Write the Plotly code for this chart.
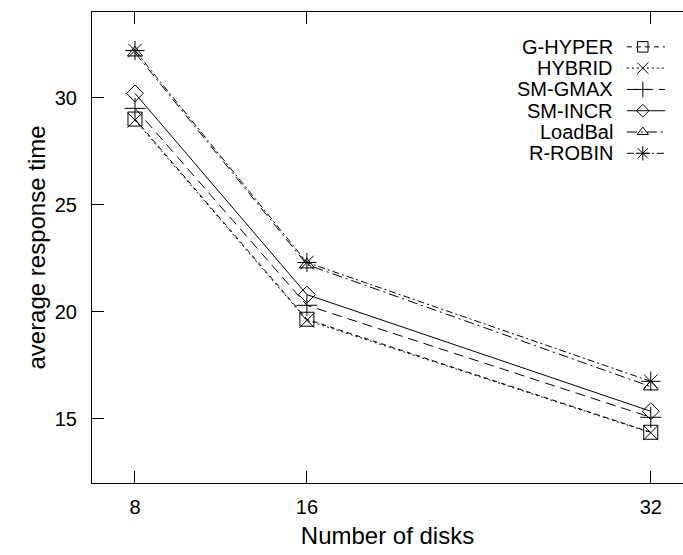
import plotly.graph_objects as go

disks = [8, 16, 32]
tick_vals_y = [15, 20, 25, 30]
series_names = ["G-HYPER", "HYBRID", "SM-GMAX", "SM-INCR", "LoadBal", "R-ROBIN"]
g_hyper = [29.0, 19.65, 14.37]
hybrid = [28.95, 19.6, 14.35]
sm_gmax = [29.5, 20.3, 15.07]
sm_incr = [30.2, 20.8, 15.35]
loadbal = [32.1, 22.2, 16.5]
r_robin = [32.2, 22.3, 16.75]

values = [g_hyper, hybrid, sm_gmax, sm_incr, loadbal, r_robin]
symbols = ["square-open", "x-thin-open", "cross-thin-open", "diamond-open",
           "triangle-up-open", "asterisk-open"]
sizes = [14, 15, 15, 13, 13, 16]
dashes = ["5px,4px", "2px,3px", "10px,6px", "solid", "10px,4px,2px,4px", "7px,3px,2px,3px"]

FONT = "Liberation Sans, Arial, sans-serif"
fig = go.Figure()
for name, ys, sym, sz, dsh in zip(series_names, values, symbols, sizes, dashes):
    fig.add_trace(go.Scatter(
        x=disks, y=ys, mode="lines+markers", name=name, showlegend=False,
        line=dict(color="black", width=1, dash=dsh),
        marker=dict(symbol=sym, size=sz, color="black", line=dict(color="black", width=1)),
    ))

# hand-drawn legend (text on the left, sample on the right, like gnuplot)
row0 = 0.926
step = 0.0452
for i, (name, sym, sz, dsh) in enumerate(zip(series_names, symbols, sizes, dashes)):
    yy = row0 - i * step
    fig.add_trace(go.Scatter(
        x=[0.905, 0.9695], y=[yy, yy], mode="lines", xaxis="x2", yaxis="y2",
        showlegend=False, hoverinfo="skip",
        line=dict(color="black", width=1, dash=dsh),
    ))
    fig.add_trace(go.Scatter(
        x=[0.932], y=[yy], mode="markers", xaxis="x2", yaxis="y2",
        showlegend=False, hoverinfo="skip",
        marker=dict(symbol=sym, size=sz * 0.75, color="black", line=dict(color="black", width=1)),
    ))
    fig.add_annotation(x=0.885, y=yy, xref="paper", yref="paper", text=name,
                       showarrow=False, xanchor="right", yanchor="middle",
                       font=dict(family=FONT, size=20, color="black"))

fig.update_layout(
    width=683, height=555,
    margin=dict(l=92, r=0, t=12, b=72),
    plot_bgcolor="white", paper_bgcolor="white",
    font=dict(family=FONT, size=20, color="black"),
    xaxis=dict(range=[6, 33.5], tickvals=disks, ticktext=[str(d) for d in disks],
               showline=True, linecolor="black", linewidth=1, mirror="ticks",
               ticks="inside", ticklen=12, tickcolor="black", showgrid=False,
               zeroline=False, ticklabelstandoff=6,
               title=dict(text="Number of disks", standoff=10)),
    yaxis=dict(range=[12, 34], tickvals=tick_vals_y,
               showline=True, linecolor="black", linewidth=1, mirror=False,
               ticks="inside", ticklen=12, tickcolor="black", showgrid=False,
               zeroline=False, ticklabelstandoff=10,
               title=dict(text="average response time", standoff=2)),
    xaxis2=dict(range=[0, 1], overlaying="x", visible=False, domain=[0, 1]),
    yaxis2=dict(range=[0, 1], overlaying="y", visible=False),
)

fig.write_html("out.html")
